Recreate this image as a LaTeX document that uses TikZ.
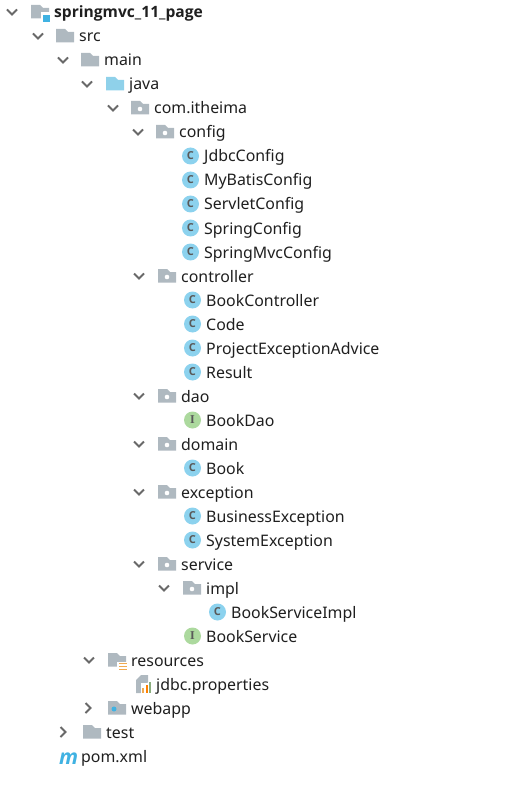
\documentclass[tikz,border=0pt]{standalone}
\usepackage{fontspec}
\setmainfont{Noto Sans}
\newfontfamily\headface{Open Sans}
\newfontfamily\ifaceface{Liberation Serif}
\definecolor{foldergray}{RGB}{175,185,192}
\definecolor{srcblue}{RGB}{143,209,234}
\definecolor{classblue}{RGB}{140,210,238}
\definecolor{ifacegreen}{RGB}{172,217,158}
\definecolor{arrowgray}{RGB}{105,105,105}
\definecolor{barorange}{RGB}{240,170,80}
\definecolor{dotblue}{RGB}{64,178,226}
\tikzset{
    filetext/.style={anchor=base west, inner sep=0pt, yshift=-1pt, text=black!88, font=\fontsize{15.9}{18}\selectfont},
    classicon/.style={circle, fill=classblue, minimum size=17pt, inner sep=0pt, text=black!65, font=\fontsize{11}{11}\selectfont\headface\bfseries},
    ifaceicon/.style={classicon, fill=ifacegreen, font=\fontsize{12}{12}\selectfont\ifaceface\bfseries},
    openarrow/.pic={\draw[arrowgray, line width=2pt] (-5,-2.5) -- (0,2.5) -- (5,-2.5);},
    shutarrow/.pic={\draw[arrowgray, line width=2pt] (-2.5,-5) -- (2.5,0) -- (-2.5,5);},
    folder/.pic={\fill[pic actions] (0,-7) -- (9,-7) -- (12,-4) -- (18,-4) -- (18,6.5) -- (0,6.5) -- cycle;},
    packagefolder/.pic={
        \fill[foldergray] (0,-7) -- (9,-7) -- (12,-4) -- (18,-4) -- (18,6.5) -- (0,6.5) -- cycle;
        \fill[white] (9,1) circle (2.3pt);},
}
\begin{document}
\begin{tikzpicture}[x=1pt, y=-1pt]
    \useasboundingbox (0,0) rectangle (506,794);
    % project
    \pic at (12,12) {openarrow};
    \pic[foldergray] at (31,12) {folder};
    \fill[white] (41,12) rectangle (50,22);
    \fill[dotblue] (43,15) rectangle (50,22);
    \node[filetext, font=\fontsize{15.6}{17}\selectfont\headface\bfseries] (project) at (54,17) {springmvc\_11\_page};
    % src tree
    \pic at (38,36) {openarrow};
    \pic[foldergray] at (56,36) {folder};
    \node[filetext] (src) at (79,41) {src};
    \pic at (63,60) {openarrow};
    \pic[foldergray] at (81,60) {folder};
    \node[filetext] (main) at (104,65) {main};
    \pic at (87,84) {openarrow};
    \pic[srcblue] at (106,84) {folder};
    \node[filetext] (java) at (129,89) {java};
    \pic at (113,108) {openarrow};
    \pic at (131,108) {packagefolder};
    \node[filetext] (itheima) at (154,113) {com.itheima};
    % config
    \pic at (138,132) {openarrow};
    \pic at (156,132) {packagefolder};
    \node[filetext] (config) at (179,137) {config};
    \node[classicon] (jdbcicon) at (190.5,156) {C};
    \node[filetext] (jdbc) at (204,161) {JdbcConfig};
    \node[classicon] (mybatisicon) at (190.5,180) {C};
    \node[filetext] (mybatis) at (204,185) {MyBatisConfig};
    \node[classicon] (servleticon) at (190.5,204) {C};
    \node[filetext] (servlet) at (204,209) {ServletConfig};
    \node[classicon] (springicon) at (190.5,228) {C};
    \node[filetext] (spring) at (204,233) {SpringConfig};
    \node[classicon] (mvcicon) at (190.5,252) {C};
    \node[filetext] (mvc) at (204,257) {SpringMvcConfig};
    % controller
    \pic at (139,276) {openarrow};
    \pic at (158,276) {packagefolder};
    \node[filetext] (controller) at (181,281) {controller};
    \node[classicon] (booknicon) at (192.5,300) {C};
    \node[filetext] (bookn) at (206,305) {BookController};
    \node[classicon] (codeicon) at (192.5,324) {C};
    \node[filetext] (code) at (206,329) {Code};
    \node[classicon] (advicon) at (192.5,348) {C};
    \node[filetext] (adv) at (206,353) {ProjectExceptionAdvice};
    \node[classicon] (resulticon) at (192.5,372) {C};
    \node[filetext] (result) at (206,377) {Result};
    % dao
    \pic at (139,396) {openarrow};
    \pic at (158,396) {packagefolder};
    \node[filetext] (dao) at (181,401) {dao};
    \node[ifaceicon] (bookdaoicon) at (192.5,420) {I};
    \node[filetext] (bookdao) at (206,425) {BookDao};
    % domain
    \pic at (139,444) {openarrow};
    \pic at (158,444) {packagefolder};
    \node[filetext] (domain) at (181,449) {domain};
    \node[classicon] (bookicon) at (192.5,468) {C};
    \node[filetext] (book) at (206,473) {Book};
    % exception
    \pic at (139,492) {openarrow};
    \pic at (158,492) {packagefolder};
    \node[filetext] (exception) at (181,497) {exception};
    \node[classicon] (busicon) at (192.5,516) {C};
    \node[filetext] (bus) at (206,521) {BusinessException};
    \node[classicon] (sysicon) at (192.5,540) {C};
    \node[filetext] (sys) at (206,545) {SystemException};
    % service
    \pic at (139,564) {openarrow};
    \pic at (158,564) {packagefolder};
    \node[filetext] (service) at (181,569) {service};
    \pic at (164,588) {openarrow};
    \pic at (183,588) {packagefolder};
    \node[filetext] (impl) at (206,593) {impl};
    \node[classicon] (serviceimplicon) at (217.5,612) {C};
    \node[filetext] (serviceimpl) at (231,617) {BookServiceImpl};
    \node[ifaceicon] (bookserviceicon) at (192.5,636) {I};
    \node[filetext] (bookservice) at (206,641) {BookService};
    % resources
    \pic at (89,660) {openarrow};
    \pic[foldergray] at (108,660) {folder};
    \fill[white] (117,662) rectangle (127,671);
    \draw[barorange, line width=1pt] (119,663.5) -- (127,663.5) (119,666.5) -- (127,666.5) (119,669.5) -- (127,669.5);
    \node[filetext] (resources) at (131,665) {resources};
    % properties
    \fill[foldergray] (136,680) -- (141,675) -- (148,675) -- (148,682) -- (142,693) -- (136,693) -- cycle;
    \fill[white] (141,683) rectangle (152,694);
    \fill[barorange] (142,688) rectangle (144,693);
    \fill[orange] (145.5,685) rectangle (147.5,693);
    \fill[ifacegreen!80!black] (149,682) rectangle (151,693);
    \node[filetext] (properties) at (156,689) {jdbc.properties};
    % webapp
    \pic at (88,708) {shutarrow};
    \pic[foldergray] at (108,708) {folder};
    \fill[dotblue] (114,709) circle (2.5pt);
    \node[filetext] (webapp) at (131,713) {webapp};
    % test
    \pic at (63,732) {shutarrow};
    \pic[foldergray] at (83,732) {folder};
    \node[filetext] (test) at (106,737) {test};
    % pom
    \node[filetext, text=dotblue, font=\fontsize{21}{21}\selectfont\headface\bfseries\itshape] (pomicon) at (59,763) {m};
    \node[filetext] (pom) at (81,761) {pom.xml};
\end{tikzpicture}
\end{document}
